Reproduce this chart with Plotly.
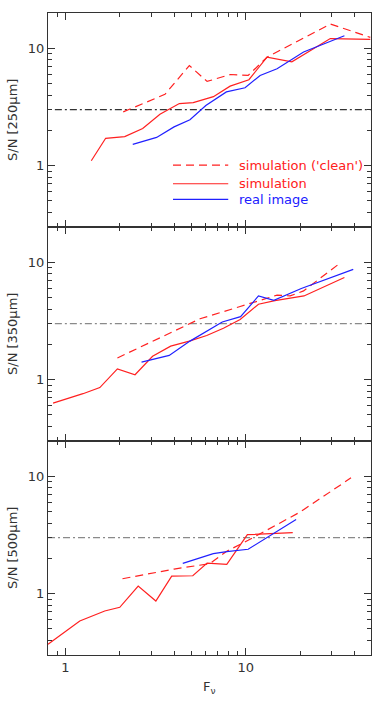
import plotly.graph_objects as go
from plotly.subplots import make_subplots

# ---------------- data ----------------
# 250 micron panel
F_clean_250 = [2.09, 3.56, 4.86, 6.1, 8.2, 10.3, 13.1, 29.4, 49.0]
SN_clean_250 = [2.87, 4.05, 7.13, 5.22, 5.98, 5.87, 8.4, 16.1, 12.4]
F_sim_250 = [1.39, 1.67, 2.13, 2.68, 3.34, 4.28, 5.11, 6.61, 8.18, 10.4, 13.1, 18.0, 29.4, 49.0]
SN_sim_250 = [1.10, 1.71, 1.77, 2.07, 2.74, 3.38, 3.44, 3.87, 4.76, 5.4, 8.4, 7.67, 12.1, 11.9]
F_real_250 = [2.36, 3.2, 4.0, 4.9, 6.0, 7.8, 9.9, 12.0, 14.9, 20.9, 35.2]
SN_real_250 = [1.52, 1.74, 2.14, 2.46, 3.25, 4.25, 4.61, 5.87, 6.7, 9.3, 12.8]

# 350 micron panel
F_clean_350 = [1.94, 5.57, 9.3, 14.9, 17.6, 20.9, 32.6]
SN_clean_350 = [1.53, 3.3, 4.2, 5.25, 5.17, 5.71, 9.6]
F_sim_350 = [0.853, 1.25, 1.55, 1.94, 2.43, 3.04, 3.83, 4.86, 6.07, 7.51, 9.3, 11.75, 14.5, 21.0, 35.2]
SN_sim_350 = [0.631, 0.759, 0.856, 1.235, 1.10, 1.58, 1.93, 2.13, 2.38, 2.74, 3.25, 4.39, 4.72, 5.17, 7.43]
F_real_350 = [2.64, 3.76, 4.9, 6.1, 7.4, 9.35, 11.75, 14.3, 20.3, 39.4]
SN_real_350 = [1.41, 1.61, 2.13, 2.62, 3.10, 3.44, 5.17, 4.75, 5.98, 8.7]

# 500 micron panel
F_clean_500 = [2.07, 4.0, 6.3, 7.84, 10.3, 20.0, 38.3]
SN_clean_500 = [1.34, 1.62, 1.8, 2.3, 2.85, 4.96, 9.7]
F_sim_500 = [0.8, 1.2, 1.65, 2.0, 2.53, 3.17, 3.88, 5.08, 6.1, 7.84, 10.2, 18.2]
SN_sim_500 = [0.37, 0.584, 0.711, 0.765, 1.16, 0.865, 1.41, 1.42, 1.82, 1.78, 3.18, 3.31]
F_real_500 = [4.47, 6.6, 7.84, 10.3, 19.0]
SN_real_500 = [1.81, 2.19, 2.28, 2.39, 4.28]

# S/N = 3 threshold line extents per panel
THRESHOLD = 3
THRESH_F = [[0.873, 50.0], [0.873, 50.0], [0.8, 50.0]]

Y_TITLES = ["S/N [250μm]", "S/N [350μm]", "S/N [500μm]"]
X_TITLE = "F<sub>ν</sub>"
LEGEND_LABELS = ["simulation ('clean')", "simulation", "real image"]
MAJOR_TICKS = [1, 10]
MAJOR_TEXT = ["1", "10"]
X_MINOR = [0.8, 0.9, 2, 3, 4, 5, 6, 7, 8, 9, 20, 30, 40]
Y_MINOR = [0.3, 0.4, 0.5, 0.6, 0.7, 0.8, 0.9, 2, 3, 4, 5, 6, 7, 8, 9, 20]

# ---------------- figure ----------------
RED = "#ff2020"
BLUE = "#2020ff"
AX = "#333333"
FONT = "DejaVu Sans"
FS = 13

panels = [
    (F_clean_250, SN_clean_250, F_sim_250, SN_sim_250, F_real_250, SN_real_250),
    (F_clean_350, SN_clean_350, F_sim_350, SN_sim_350, F_real_350, SN_real_350),
    (F_clean_500, SN_clean_500, F_sim_500, SN_sim_500, F_real_500, SN_real_500),
]
thresh_colors = ["#333333", "#8a8a8a", "#8a8a8a"]

fig = make_subplots(rows=3, cols=1, shared_xaxes=True, vertical_spacing=0)

for i, (fc, sc, fs, ss, fr, sr) in enumerate(panels):
    r = i + 1
    fig.add_trace(go.Scatter(x=THRESH_F[i], y=[THRESHOLD, THRESHOLD], mode="lines",
                             line=dict(color=thresh_colors[i], width=1.1, dash="7px,3px,2px,3px"),
                             showlegend=False, hoverinfo="skip"), row=r, col=1)
    fig.add_trace(go.Scatter(x=fc, y=sc, mode="lines",
                             line=dict(color=RED, width=1.2, dash="8px,5px"),
                             showlegend=False), row=r, col=1)
    fig.add_trace(go.Scatter(x=fs, y=ss, mode="lines",
                             line=dict(color=RED, width=1.2), showlegend=False), row=r, col=1)
    fig.add_trace(go.Scatter(x=fr, y=sr, mode="lines",
                             line=dict(color=BLUE, width=1.2), showlegend=False), row=r, col=1)

    fig.update_xaxes(type="log", range=[-0.097, 1.694], showline=True, linecolor=AX, linewidth=1.2,
                     mirror="allticks", ticks="inside", ticklen=7, tickwidth=1, tickcolor=AX,
                     tickmode="array", tickvals=MAJOR_TICKS, ticktext=MAJOR_TEXT,
                     minor=dict(ticks="inside", ticklen=4, tickwidth=1, tickcolor=AX,
                                tickmode="array", tickvals=X_MINOR),
                     showgrid=False, zeroline=False, showticklabels=(r == 3),
                     tickfont=dict(family=FONT, size=FS, color=AX), row=r, col=1)
    fig.update_yaxes(type="log", range=[-0.523, 1.301], showline=True, linecolor=AX, linewidth=1.2,
                     mirror="allticks", ticks="inside", ticklen=7, tickwidth=1, tickcolor=AX,
                     tickmode="array", tickvals=MAJOR_TICKS, ticktext=MAJOR_TEXT,
                     minor=dict(ticks="inside", ticklen=4, tickwidth=1, tickcolor=AX,
                                tickmode="array", tickvals=Y_MINOR),
                     showgrid=False, zeroline=False,
                     tickfont=dict(family=FONT, size=FS, color=AX), row=r, col=1)
    # y-axis title as rotated annotation
    yref = "y domain" if r == 1 else f"y{r} domain"
    fig.add_annotation(xref="paper", yref=yref, x=0, y=0.5, xshift=-36, text=Y_TITLES[i],
                       textangle=-90, showarrow=False, xanchor="center", yanchor="middle",
                       font=dict(family=FONT, size=FS, color=AX))

# x-axis title
fig.add_annotation(xref="x3 domain", yref="y3 domain", x=0.5, y=0, yshift=-32, text=X_TITLE,
                   showarrow=False, xanchor="center", yanchor="middle",
                   font=dict(family=FONT, size=FS, color=AX))

# legend drawn inside the top panel
leg_colors = [RED, RED, BLUE]
leg_dash = ["8px,5px", "solid", "solid"]
leg_y = [0.289, 0.202, 0.129]
for lab, c, d, yy in zip(LEGEND_LABELS, leg_colors, leg_dash, leg_y):
    fig.add_shape(type="line", xref="x domain", yref="y domain", x0=0.387, x1=0.558, y0=yy, y1=yy,
                  line=dict(color=c, width=1.2, dash=d))
    fig.add_annotation(xref="x domain", yref="y domain", x=0.586, y=yy, text=lab, showarrow=False,
                       xanchor="left", yanchor="middle", font=dict(family=FONT, size=FS, color=c))

fig.update_layout(width=382, height=716, margin=dict(l=48, r=11, t=13, b=61),
                  paper_bgcolor="white", plot_bgcolor="white", showlegend=False,
                  font=dict(family=FONT, size=FS, color=AX))

# remove the browser's default body margin so the figure sits at the page origin
fig.write_html("out.html", config={"displayModeBar": False},
               post_script="document.body.style.margin='0';document.body.style.overflow='hidden';")
